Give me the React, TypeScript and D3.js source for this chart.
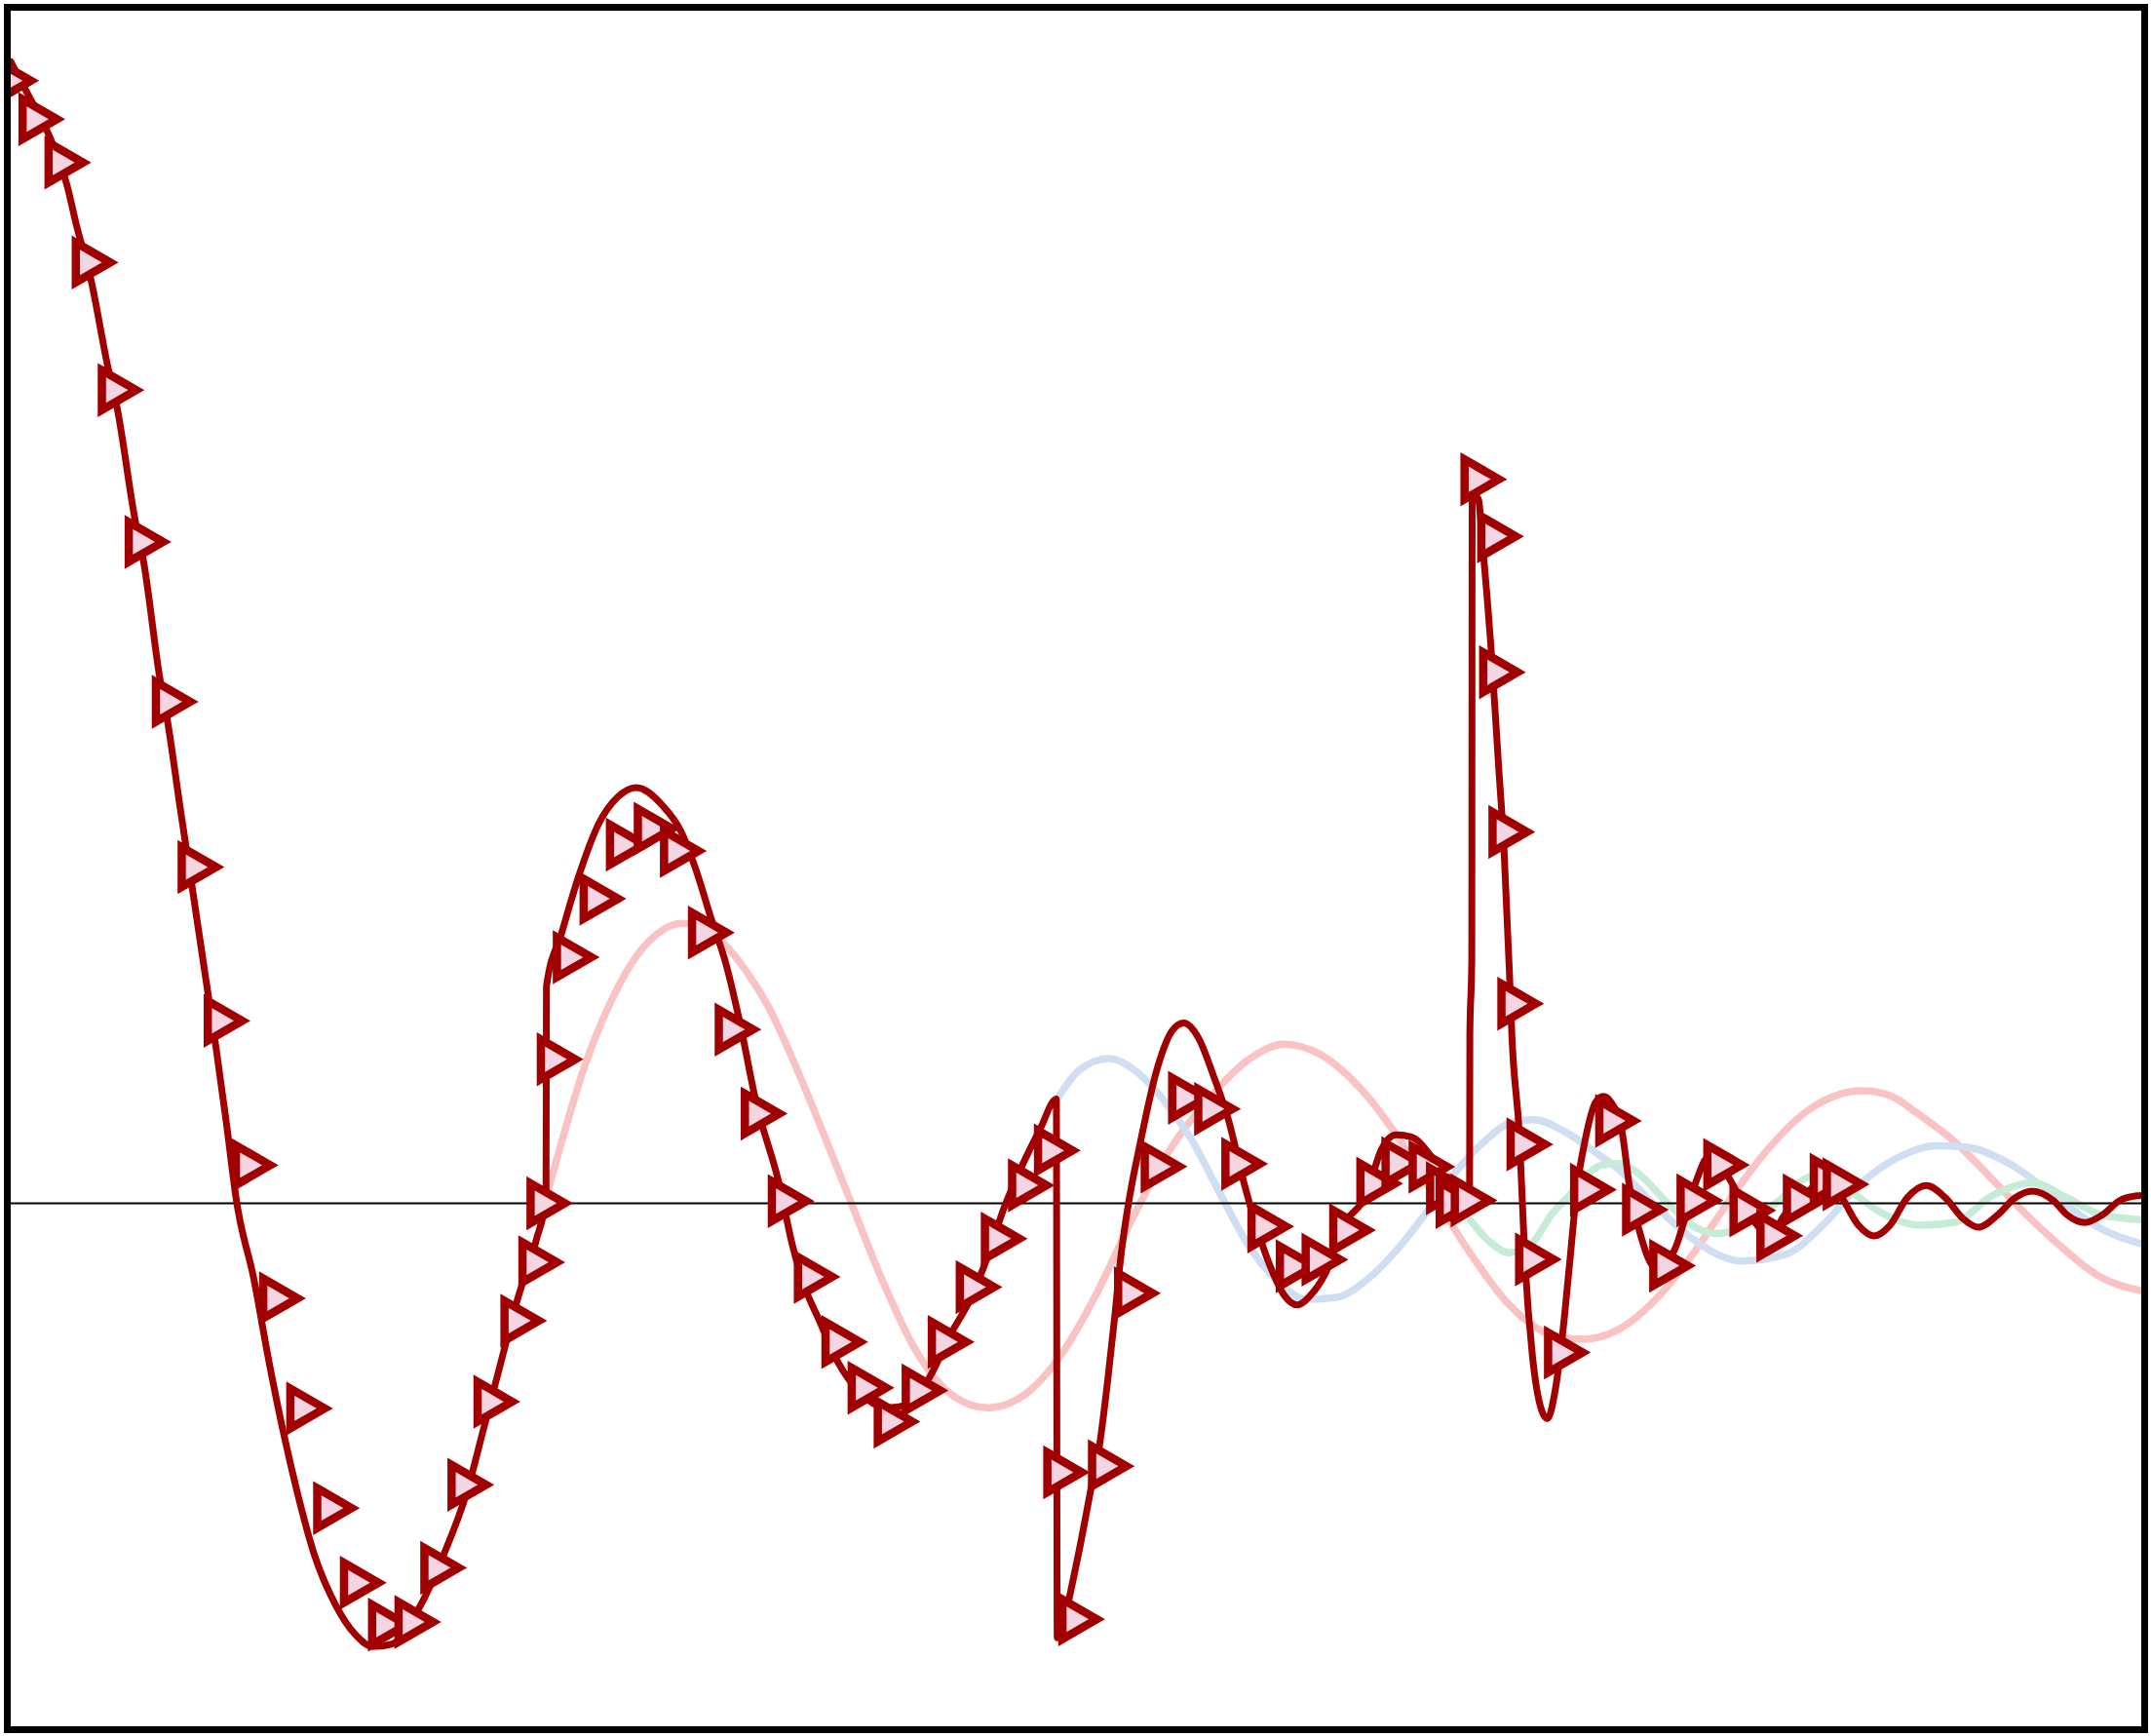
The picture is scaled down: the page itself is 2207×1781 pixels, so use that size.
import { useRef, useEffect } from 'react';
import * as d3 from 'd3';

type Pt = [number, number];

// time (s) vs amplitude
const signal: Pt[] = [
  [0.0, 8.32], [0.12, 8.09], [0.28, 7.78], [0.41, 7.42], [0.476, 7.14], [0.585, 6.73],
  [0.707, 6.1], [0.775, 5.8], [0.91, 4.96], [0.966, 4.69], [1.088, 3.82], [1.142, 3.52],
  [1.237, 2.87], [1.32, 2.32], [1.42, 1.65], [1.5, 1.11], [1.57, 0.6], [1.65, -0.01],
  [1.77, -0.54], [1.88, -1.14], [1.99, -1.68], [2.1, -2.15], [2.21, -2.55], [2.37, -2.93],
  [2.51, -3.14], [2.64, -3.23], [2.78, -3.21], [2.97, -2.96], [3.16, -2.55], [3.32, -2.12],
  [3.45, -1.63], [3.57, -1.17], [3.7, -0.68], [3.83, -0.27], [3.902, 0.05], [3.905, 1.58],
  [4.016, 1.97], [4.139, 2.38], [4.288, 2.77], [4.424, 2.96], [4.56, 3.03], [4.75, 2.9],
  [4.886, 2.71], [4.995, 2.43], [5.104, 2.08], [5.212, 1.75], [5.321, 1.29], [5.43, 0.75],
  [5.602, 0.14], [5.697, -0.3], [5.792, -0.62], [5.888, -0.84], [6.037, -1.17], [6.173, -1.36],
  [6.39, -1.49], [6.527, -1.47], [6.69, -1.28], [6.853, -0.95], [6.989, -0.71], [7.124, -0.38],
  [7.234, -0.05], [7.37, 0.27], [7.505, 0.545], [7.622, 0.76], [7.628, -3.166], [7.655, -3.166],
  [7.709, -2.91], [7.804, -2.45], [7.872, -2.09], [7.94, -1.74], [7.995, -1.3], [8.049, -0.81],
  [8.087, -0.43], [8.158, 0.06], [8.223, 0.39], [8.359, 0.99], [8.468, 1.26], [8.55, 1.314],
  [8.658, 1.205], [8.767, 0.93], [8.876, 0.61], [8.984, 0.17], [9.093, -0.21], [9.202, -0.51],
  [9.283, -0.67], [9.379, -0.74], [9.474, -0.67], [9.583, -0.51], [9.718, -0.155], [9.882, 0.063],
  [9.99, 0.39], [10.099, 0.5], [10.208, 0.484], [10.316, 0.39], [10.398, 0.25], [10.42, 0.11],
  [10.44, 0.21], [10.46, -0.07], [10.48, 0.19], [10.5, -0.11], [10.52, 0.17], [10.54, -0.09],
  [10.56, 0.11], [10.6, 0.03], [10.634, 0.09], [10.636, 1.23], [10.65, 1.77], [10.653, 5.14],
  [10.694, 5.14], [10.735, 4.73], [10.79, 4.05], [10.844, 3.21], [10.885, 2.58], [10.925, 1.67],
  [10.943, 1.21], [10.997, 0.5], [11.038, -0.43], [11.092, -1.11], [11.16, -1.51], [11.201, -1.57],
  [11.255, -1.38], [11.31, -0.97], [11.364, -0.43], [11.418, 0.12], [11.472, 0.44], [11.554, 0.74],
  [11.609, 0.78], [11.663, 0.74], [11.745, 0.525], [11.8, 0.12], [11.88, -0.23], [11.99, -0.47],
  [12.125, -0.345], [12.207, -0.1], [12.289, 0.17], [12.37, 0.33], [12.451, 0.31], [12.533, 0.17],
  [12.642, -0.02], [12.75, -0.18], [12.832, -0.21], [12.941, -0.07], [13.077, 0.06], [13.213, 0.17],
  [13.335, 0.06], [13.469, -0.16], [13.583, -0.237], [13.698, -0.16], [13.824, 0.04], [13.964, 0.13],
  [14.103, 0.04], [14.23, -0.11], [14.344, -0.174], [14.483, -0.085], [14.61, 0.04], [14.737, 0.09],
  [14.89, 0.02], [14.991, -0.085], [15.118, -0.14], [15.245, -0.085], [15.372, 0.02], [15.498, 0.055],
  [15.58, 0.06],
];

const samples: Pt[] = [
  [-0.02, 8.18], [0.17, 7.9], [0.36, 7.584], [0.558, 6.856], [0.748, 5.926], [0.944, 4.82],
  [1.142, 3.655], [1.33, 2.45], [1.52, 1.33], [1.725, 0.278], [1.924, -0.692], [2.122, -1.494],
  [2.318, -2.22], [2.513, -2.764], [2.718, -3.07], [2.911, -3.05], [3.099, -2.655], [3.297, -2.051],
  [3.487, -1.445], [3.683, -0.855], [3.814, -0.429], [3.873, 0.001], [3.948, 1.05], [4.065, 1.793],
  [4.26, 2.22], [4.452, 2.614], [4.655, 2.73], [4.846, 2.568], [5.05, 1.973], [5.245, 1.267],
  [5.435, 0.654], [5.632, 0.016], [5.822, -0.535], [6.023, -1.01], [6.214, -1.344], [6.404, -1.59],
  [6.608, -1.364], [6.798, -1.01], [7.002, -0.61], [7.185, -0.257], [7.383, 0.132], [7.572, 0.385],
  [7.64, -1.96], [7.75, -3.03], [7.966, -1.915], [8.156, -0.655], [8.35, 0.268], [8.55, 0.77],
  [8.74, 0.688], [8.938, 0.288], [9.128, -0.169], [9.335, -0.457], [9.523, -0.41], [9.724, -0.195],
  [9.922, 0.144], [10.105, 0.294], [10.303, 0.267], [10.43, 0.11], [10.5, 0.01], [10.61, 0.022],
  [10.681, 5.276], [10.803, 4.86], [10.817, 3.87], [10.885, 2.706], [10.95, 1.455], [11.017, 0.43],
  [11.079, -0.408], [11.29, -1.087], [11.48, 0.1], [11.663, 0.601], [11.859, -0.046], [12.057, -0.454],
  [12.256, 0.022], [12.451, 0.28], [12.642, -0.051], [12.838, -0.236], [13.031, 0.022], [13.227, 0.172],
  [13.322, 0.139],
];

// faint component curves
const componentRed: Pt[] = [
  [3.91, 0.07], [4.016, 0.45], [4.18, 0.99], [4.37, 1.46], [4.56, 1.8], [4.75, 1.99],
  [4.89, 2.04], [5.05, 2.0], [5.21, 1.88], [5.376, 1.67], [5.54, 1.4], [5.7, 1.05],
  [5.92, 0.52], [6.1, 0.07], [6.336, -0.52], [6.608, -1.09], [6.88, -1.41], [7.124, -1.49],
  [7.396, -1.39], [7.652, -1.11], [7.924, -0.64], [8.196, -0.07], [8.468, 0.42], [8.74, 0.77],
  [9.012, 1.04], [9.283, 1.16], [9.556, 1.08], [9.827, 0.85], [10.099, 0.5], [10.371, 0.06],
  [10.643, -0.37], [10.915, -0.73], [11.187, -0.94], [11.458, -0.99], [11.718, -0.92], [11.99, -0.7],
  [12.261, -0.37], [12.533, 0.03], [12.805, 0.39], [13.077, 0.66], [13.29, 0.78], [13.5, 0.82],
  [13.71, 0.78], [13.892, 0.66], [14.18, 0.44], [14.43, 0.19], [14.69, -0.08], [14.94, -0.31],
  [15.22, -0.53], [15.55, -0.64],
];

const componentBlue: Pt[] = [
  [7.624, 0.755], [7.788, 0.97], [8.005, 1.055], [8.223, 0.946], [8.413, 0.742], [8.604, 0.47],
  [8.821, 0.06], [9.012, -0.29], [9.229, -0.56], [9.447, -0.7], [9.664, -0.685], [9.882, -0.56],
  [10.099, -0.345], [10.316, -0.07], [10.534, 0.23], [10.751, 0.46], [10.915, 0.58], [11.105, 0.61],
  [11.323, 0.525], [11.568, 0.36], [11.718, 0.25], [11.99, -0.02], [12.261, -0.26], [12.615, -0.42],
  [12.941, -0.37], [13.213, -0.155], [13.485, 0.144], [13.757, 0.334], [14.03, 0.42], [14.25, 0.41],
  [14.56, 0.295], [14.94, 0.02], [15.245, -0.19], [15.55, -0.3],
];

const componentGreen: Pt[] = [
  [10.643, -0.127], [10.77, -0.27], [10.92, -0.36], [11.08, -0.3], [11.24, -0.07], [11.364, 0.06],
  [11.47, 0.19], [11.6, 0.28], [11.72, 0.29], [11.853, 0.226], [12.07, 0.01], [12.289, -0.18],
  [12.45, -0.22], [12.66, -0.15], [12.89, 0.02], [13.1, 0.19], [13.22, 0.21], [13.37, 0.12],
  [13.62, -0.06], [13.926, -0.16], [14.18, -0.136], [14.433, 0.05], [14.737, 0.15], [14.99, 0.04],
  [15.245, -0.085], [15.55, -0.12],
];

const xExtent: Pt = [0, 15.53];
const yExtent: Pt = [-3.81, 8.69];

const WIDTH = 2207;
const HEIGHT = 1781;

function SignalChart() {
  const svgRef = useRef<SVGSVGElement>(null);

  useEffect(() => {
    if (!svgRef.current) return;
    const svg = d3.select(svgRef.current);
    svg.selectAll('*').remove();

    const plot = { left: 11, top: 11, right: 2197, bottom: 1771 };

    const x = d3.scaleLinear().domain(xExtent).range([plot.left, plot.right]);
    const y = d3.scaleLinear().domain(yExtent).range([plot.bottom, plot.top]);

    svg
      .append('defs')
      .append('clipPath')
      .attr('id', 'plot-clip')
      .append('rect')
      .attr('x', plot.left)
      .attr('y', plot.top)
      .attr('width', plot.right - plot.left)
      .attr('height', plot.bottom - plot.top);

    const g = svg.append('g').attr('clip-path', 'url(#plot-clip)');

    // monotone in x keeps the sharp vertical jumps without overshoot
    const line = d3
      .line<Pt>()
      .x((d) => x(d[0]))
      .y((d) => y(d[1]))
      .curve(d3.curveMonotoneX);

    // faint components
    const faint: [Pt[], string][] = [
      [componentRed, '#f9c3c3'],
      [componentBlue, '#cfdef0'],
      [componentGreen, '#c6ebd6'],
    ];
    faint.forEach(([data, color]) => {
      g.append('path')
        .datum(data)
        .attr('d', line)
        .attr('fill', 'none')
        .attr('stroke', color)
        .attr('stroke-width', 7.5)
        .attr('stroke-linecap', 'round');
    });

    // zero line
    g.append('line')
      .attr('x1', plot.left)
      .attr('x2', plot.right)
      .attr('y1', y(0))
      .attr('y2', y(0))
      .attr('stroke', '#000')
      .attr('stroke-width', 2);

    // main signal
    g.append('path')
      .datum(signal)
      .attr('d', line)
      .attr('fill', 'none')
      .attr('stroke', '#a00000')
      .attr('stroke-width', 7)
      .attr('stroke-linejoin', 'round')
      .attr('stroke-linecap', 'round');

    // sample markers (right-pointing triangles)
    const tri = d3.symbol().type(d3.symbolTriangle).size(720);
    g.selectAll('path.sample')
      .data(samples)
      .join('path')
      .attr('class', 'sample')
      .attr('d', tri)
      .attr('transform', (d) => `translate(${x(d[0])},${y(d[1])}) rotate(90)`)
      .attr('fill', '#f5d5e2')
      .attr('stroke', '#a00000')
      .attr('stroke-width', 8.5)
      .attr('stroke-linejoin', 'miter');

    // frame
    svg
      .append('rect')
      .attr('x', 7.5)
      .attr('y', 7.5)
      .attr('width', 2193)
      .attr('height', 1767)
      .attr('fill', 'none')
      .attr('stroke', '#000')
      .attr('stroke-width', 7);
  }, []);

  return (
    <svg
      ref={svgRef}
      width={WIDTH}
      height={HEIGHT}
      style={{ position: 'absolute', left: 0, top: 0, display: 'block', background: '#fff' }}
    />
  );
}

export default function App() {
  return <SignalChart />;
}
